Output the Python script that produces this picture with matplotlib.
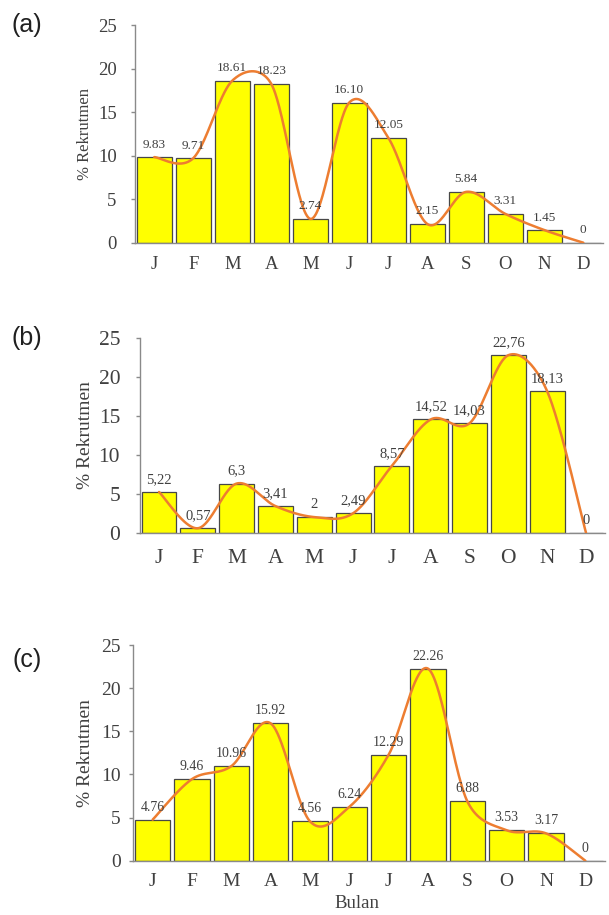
import numpy as np
import matplotlib
matplotlib.use("Agg")
import matplotlib.pyplot as plt

months = ["J", "F", "M", "A", "M", "J", "J", "A", "S", "O", "N", "D"]
vals_a = [9.83, 9.71, 18.61, 18.23, 2.74, 16.10, 12.05, 2.15, 5.84, 3.31, 1.45, 0]
labels_a = ["9.83", "9.71", "18.61", "18.23", "2.74", "16.10", "12.05", "2.15", "5.84", "3.31", "1.45", "0"]
vals_b = [5.22, 0.57, 6.3, 3.41, 2, 2.49, 8.57, 14.52, 14.03, 22.76, 18.13, 0]
labels_b = ["5,22", "0,57", "6,3", "3,41", "2", "2,49", "8,57", "14,52", "14,03", "22,76", "18,13", "0"]
vals_c = [4.76, 9.46, 10.96, 15.92, 4.56, 6.24, 12.29, 22.26, 6.88, 3.53, 3.17, 0]
labels_c = ["4.76", "9.46", "10.96", "15.92", "4.56", "6.24", "12.29", "22.26", "6.88", "3.53", "3.17", "0"]
yticks = [0, 5, 10, 15, 20, 25]

SERIF = ["Liberation Serif", "DejaVu Serif"]
SANS = ["Liberation Sans", "DejaVu Sans"]
TXT = "#404040"


def excel_smooth(ax, xd, yd, n=60):
    """Excel-style smoothed line (Bezier with capped control points), in screen space."""
    pts = ax.transData.transform(np.column_stack([xd, yd]).astype(float))
    out = []
    N = len(pts)
    for i in range(N - 1):
        p1, p2 = pts[i], pts[i + 1]
        p0 = pts[i - 1] if i > 0 else p1
        p3 = pts[i + 2] if i + 2 < N else p2
        d12 = np.hypot(*(p2 - p1))
        d02 = np.hypot(*(p2 - p0))
        d13 = np.hypot(*(p3 - p1))
        f1 = 1 / 6 if d02 / 6 < d12 / 2 else d12 / (2 * d02)
        f2 = 1 / 6 if d13 / 6 < d12 / 2 else d12 / (2 * d13)
        c1 = p1 + (p2 - p0) * f1
        c2 = p2 - (p3 - p1) * f2
        t = np.linspace(0, 1, n, endpoint=(i == N - 2))[:, None]
        seg = ((1 - t) ** 3) * p1 + 3 * ((1 - t) ** 2) * t * c1 + 3 * (1 - t) * t**2 * c2 + t**3 * p2
        out.append(seg)
    out = np.vstack(out)
    data = ax.transData.inverted().transform(out)
    return data[:, 0], data[:, 1]


fig = plt.figure(figsize=(6.09, 9.15), dpi=100)

panels = [
    dict(vals=vals_a, labels=labels_a, rect=[134.8, 602.8, 25.0, 242.7], tfs=13.5, vfs=9.5,
         lfs=12, xpad=9.5, ypad=10, tag="(a)", tagy=25),
    dict(vals=vals_b, labels=labels_b, rect=[139.6, 605.4, 337.7, 532.7], tfs=15.5, vfs=10.5,
         lfs=14, xpad=12, ypad=11, tag="(b)", tagy=338),
    dict(vals=vals_c, labels=labels_c, rect=[133.0, 605.0, 645.0, 860.7], tfs=14, vfs=10,
         lfs=14, xpad=9, ypad=6, tag="(c)", tagy=660),
]

W, H = 609, 915
for p in panels:
    l, r, t, b = p["rect"]
    ax = fig.add_axes([l / W, 1 - b / H, (r - l) / W, (b - t) / H])
    x = np.arange(len(months))
    ax.set_xlim(-0.5, 11.5)
    ax.set_ylim(0, 25)
    ax.bar(x, p["vals"], width=0.9, color="#FFFF00", edgecolor="#474747", linewidth=0.9, zorder=2)
    sx, sy = excel_smooth(ax, x, p["vals"])
    ax.plot(sx, sy, color="#ED7D31", linewidth=1.8, zorder=3, solid_capstyle="round")
    for xi, v, lab in zip(x, p["vals"], p["labels"]):
        ax.annotate(lab, (xi, v), xytext=(0, 9), textcoords="offset points",
                    ha="center", va="center", fontsize=p["vfs"], family=SERIF, color=TXT, zorder=4)
    ax.set_xlim(-0.5, 11.5)
    ax.set_ylim(0, 25)
    ax.set_yticks(yticks)
    ax.set_xticks(x)
    ax.set_xticklabels(months)
    for s in ["top", "right"]:
        ax.spines[s].set_visible(False)
    for s in ["left", "bottom"]:
        ax.spines[s].set_color("#8a8a8a")
        ax.spines[s].set_linewidth(1.0)
    ax.tick_params(axis="x", length=0, pad=p["xpad"], labelsize=p["tfs"], labelcolor=TXT)
    ax.tick_params(axis="y", length=3, width=1, color="#8a8a8a", direction="out",
                   pad=p["ypad"], labelsize=p["tfs"], labelcolor=TXT)
    for lbl in ax.get_xticklabels() + ax.get_yticklabels():
        lbl.set_family(SERIF)
    ax.set_ylabel("% Rekrutmen", family=SERIF, fontsize=p["lfs"], color=TXT, va="center")
    ax.yaxis.set_label_coords((85 - l) / (r - l), 0.5)
    fig.text(27 / W, 1 - p["tagy"] / H, p["tag"], family=SANS, fontsize=18,
             ha="center", va="center", color="#202020")

fig.text(357 / W, 1 - 903 / H, "Bulan", family=SERIF, fontsize=13.5, color=TXT,
         ha="center", va="center")

fig.savefig("out.png", dpi=100)
